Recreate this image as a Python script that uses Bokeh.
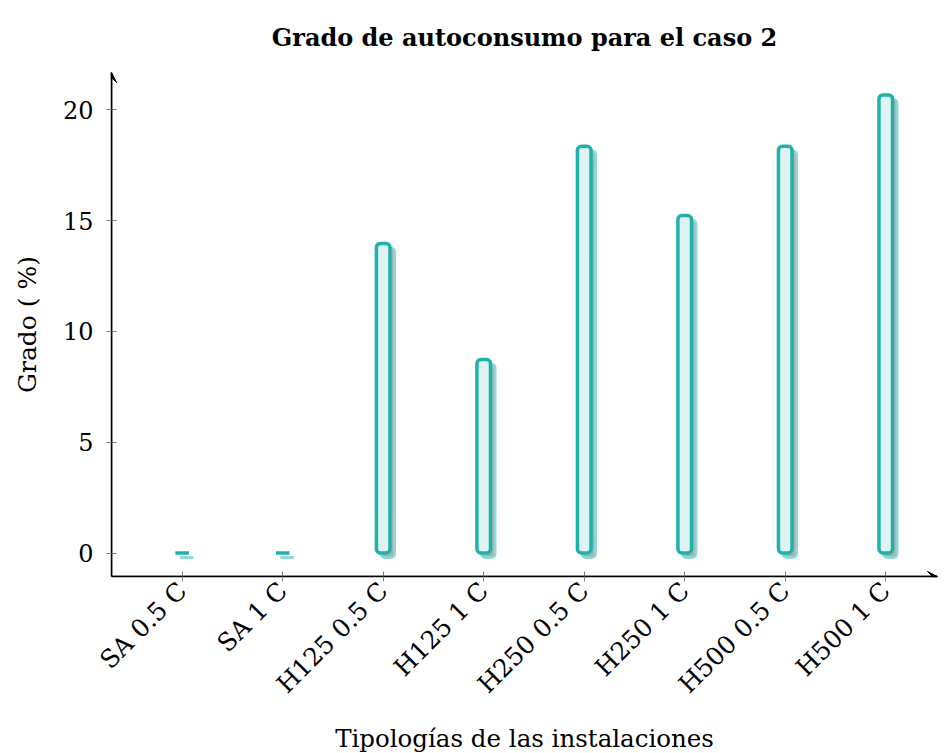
from bokeh.plotting import figure
from bokeh.models import Range1d, FixedTicker, Arrow, VeeHead, ColumnDataSource
from bokeh.embed import file_html
from bokeh.resources import INLINE
import math

categories = ["SA 0.5 C", "SA 1 C", "H125 0.5 C", "H125 1 C",
              "H250 0.5 C", "H250 1 C", "H500 0.5 C", "H500 1 C"]
values = [0.0, 0.0, 13.97, 8.73, 18.35, 15.23, 18.35, 20.67]
y_ticks = [0, 5, 10, 15, 20]

TEAL = "#20b2aa"
FILL = "#dff4f2"
SHADOW_FILL = "#adadad"
SHADOW_LINE = "#8ad6cf"
FONT = "DejaVu Serif"

xs = list(range(len(categories)))
x0, x1 = -0.703, 7.515
y0, y1 = -1.06, 21.68

p = figure(width=945, height=751, output_backend="svg", toolbar_location=None,
           x_range=Range1d(x0, x1), y_range=Range1d(y0, y1),
           min_border_left=111, min_border_right=8, min_border_top=71,
           min_border_bottom=176, title="Grado de autoconsumo para el caso 2")
p.frame_width = 826
p.frame_height = 504
p.outline_line_color = None
p.xgrid.visible = False
p.ygrid.visible = False
p.background_fill_color = "white"

p.title.text_font = FONT
p.title.text_font_size = "24px"
p.title.text_font_style = "bold"
p.title.text_color = "black"
p.title.align = "center"
p.title.standoff = 41

shadow = ColumnDataSource(dict(x=[x + 0.045 for x in xs],
                               top=[v - 0.2 for v in values],
                               bottom=[-0.2] * len(values)))
bars = ColumnDataSource(dict(x=xs, top=values, bottom=[0] * len(values)))

p.vbar(x="x", top="top", bottom="bottom", width=0.135, source=shadow,
       fill_color=SHADOW_FILL, line_color=SHADOW_LINE, line_width=3,
       line_alpha=0.9, border_radius=4)
p.vbar(x="x", top="top", bottom="bottom", width=0.135, source=bars,
       fill_color=FILL, line_color=TEAL, line_width=3.5, border_radius=4)

for ax in (p.xaxis[0], p.yaxis[0]):
    ax.axis_line_color = "black"
    ax.axis_line_width = 1.5
    ax.major_tick_line_color = "#808080"
    ax.major_tick_in = 5
    ax.major_tick_out = 5
    ax.minor_tick_line_color = None
    ax.major_label_text_font = FONT
    ax.major_label_text_color = "black"
    ax.axis_label_text_font = FONT
    ax.axis_label_text_color = "black"
    ax.axis_label_text_font_style = "normal"

p.xaxis.ticker = FixedTicker(ticks=xs)
p.xaxis.major_label_overrides = {i: c for i, c in enumerate(categories)}
p.xaxis.major_label_orientation = math.pi / 4
p.xaxis.major_label_text_font_size = "25px"
p.xaxis.axis_label = "Tipologías de las instalaciones"
p.xaxis.axis_label_text_font_size = "24.5px"
p.xaxis.axis_label_standoff = 12
p.yaxis.ticker = FixedTicker(ticks=y_ticks)
p.yaxis.major_label_text_font_size = "24px"
p.yaxis.axis_label = "Grado ( %)"
p.yaxis.axis_label_text_font_size = "25px"
p.yaxis.major_label_standoff = 13
p.yaxis.axis_label_standoff = 18

head = dict(size=10, fill_color="black", line_color="black")
p.add_layout(Arrow(end=VeeHead(**head), x_start=x0, y_start=y0, x_end=x0, y_end=y1,
                   line_color="black", line_width=1.5))
p.add_layout(Arrow(end=VeeHead(**head), x_start=x0, y_start=y0, x_end=x1, y_end=y0,
                   line_color="black", line_width=1.5))

open("out.html", "w").write(file_html(p, INLINE))
